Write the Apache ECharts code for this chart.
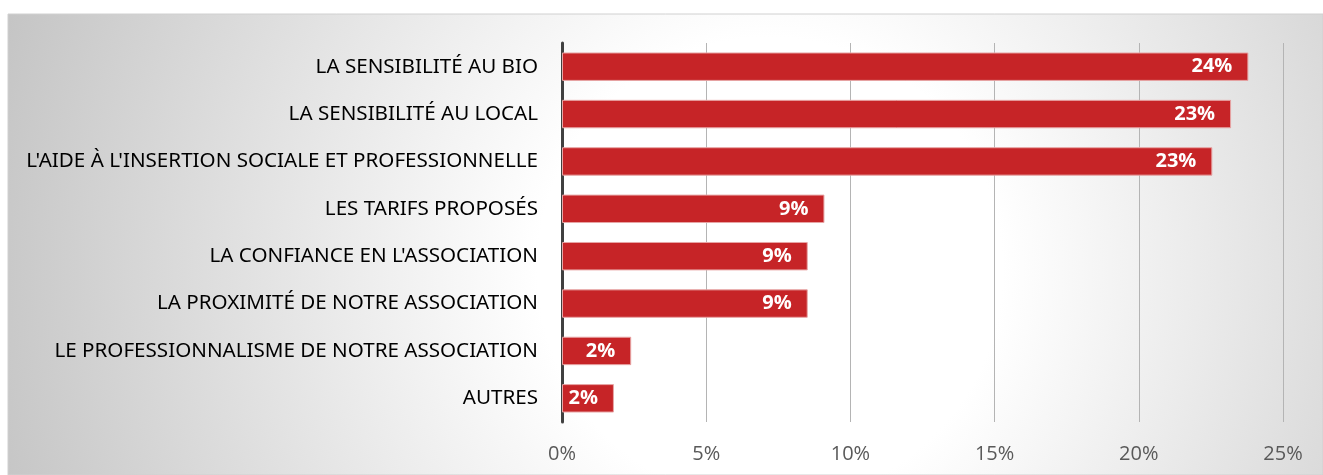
<!DOCTYPE html>
<html>
<head>
<meta charset="utf-8">
<script src="https://cdn.jsdelivr.net/npm/echarts@6/dist/echarts.min.js"></script>
<style>
  html, body { margin: 0; padding: 0; background: #fff; }
  #chart { width: 1323px; height: 475px; }
</style>
</head>
<body>
<div id="chart"></div>
<script>
// critères de choix (du haut vers le bas)
const categories = [
  'LA SENSIBILITÉ AU BIO',
  'LA SENSIBILITÉ AU LOCAL',
  "L'AIDE À L'INSERTION SOCIALE ET PROFESSIONNELLE",
  'LES TARIFS PROPOSÉS',
  "LA CONFIANCE EN L'ASSOCIATION",
  'LA PROXIMITÉ DE NOTRE ASSOCIATION',
  'LE PROFESSIONNALISME DE NOTRE ASSOCIATION',
  'AUTRES'
];
// pourcentages
const values = [23.8, 23.2, 22.55, 9.1, 8.52, 8.52, 2.4, 1.8];
const xTicks = [0, 5, 10, 15, 20, 25];

const chart = echarts.init(document.getElementById('chart'));

chart.setOption({
  backgroundColor: '#ffffff',
  animation: false,
  graphic: [{
    type: 'rect',
    z: -10,
    silent: true,
    shape: { x: 8, y: 14, width: 1315, height: 461 },
    style: {
      fill: {
        type: 'radial',
        global: true,
        x: 770, y: 270, r: 830,
        colorStops: [
          { offset: 0, color: '#ffffff' },
          { offset: 0.28, color: '#ffffff' },
          { offset: 1, color: '#c2c2c2' }
        ]
      },
      stroke: '#d0d0d0',
      lineWidth: 1
    }
  }],
  grid: { left: 562, right: 40, top: 43, bottom: 53, containLabel: false },
  xAxis: {
    type: 'value',
    min: xTicks[0],
    max: xTicks[xTicks.length - 1],
    interval: 5,
    axisLine: { show: false },
    axisTick: { show: false },
    splitLine: { lineStyle: { color: '#b4b4b4', width: 1 } },
    axisLabel: {
      formatter: '{value}%',
      color: '#595959',
      fontSize: 20,
      fontFamily: 'Open Sans',
      margin: 22
    }
  },
  yAxis: {
    type: 'category',
    inverse: true,
    data: categories,
    axisLine: { lineStyle: { color: '#404040', width: 3 } },
    axisTick: { show: false },
    axisLabel: {
      color: '#000000',
      fontSize: 20.6,
      fontFamily: 'Noto Sans',
      margin: 24
    }
  },
  series: [{
    type: 'bar',
    data: values,
    barCategoryGap: '40%',
    itemStyle: {
      color: '#c62427',
      borderColor: '#e7a5a5',
      borderWidth: 1
    },
    label: {
      show: true,
      position: 'insideRight',
      distance: 16,
      color: '#ffffff',
      fontWeight: 'bold',
      fontSize: 20,
      fontFamily: 'Open Sans',
      formatter: p => Math.round(p.value) + '%'
    }
  }]
});

window.addEventListener('resize', () => chart.resize());
</script>
</body>
</html>
